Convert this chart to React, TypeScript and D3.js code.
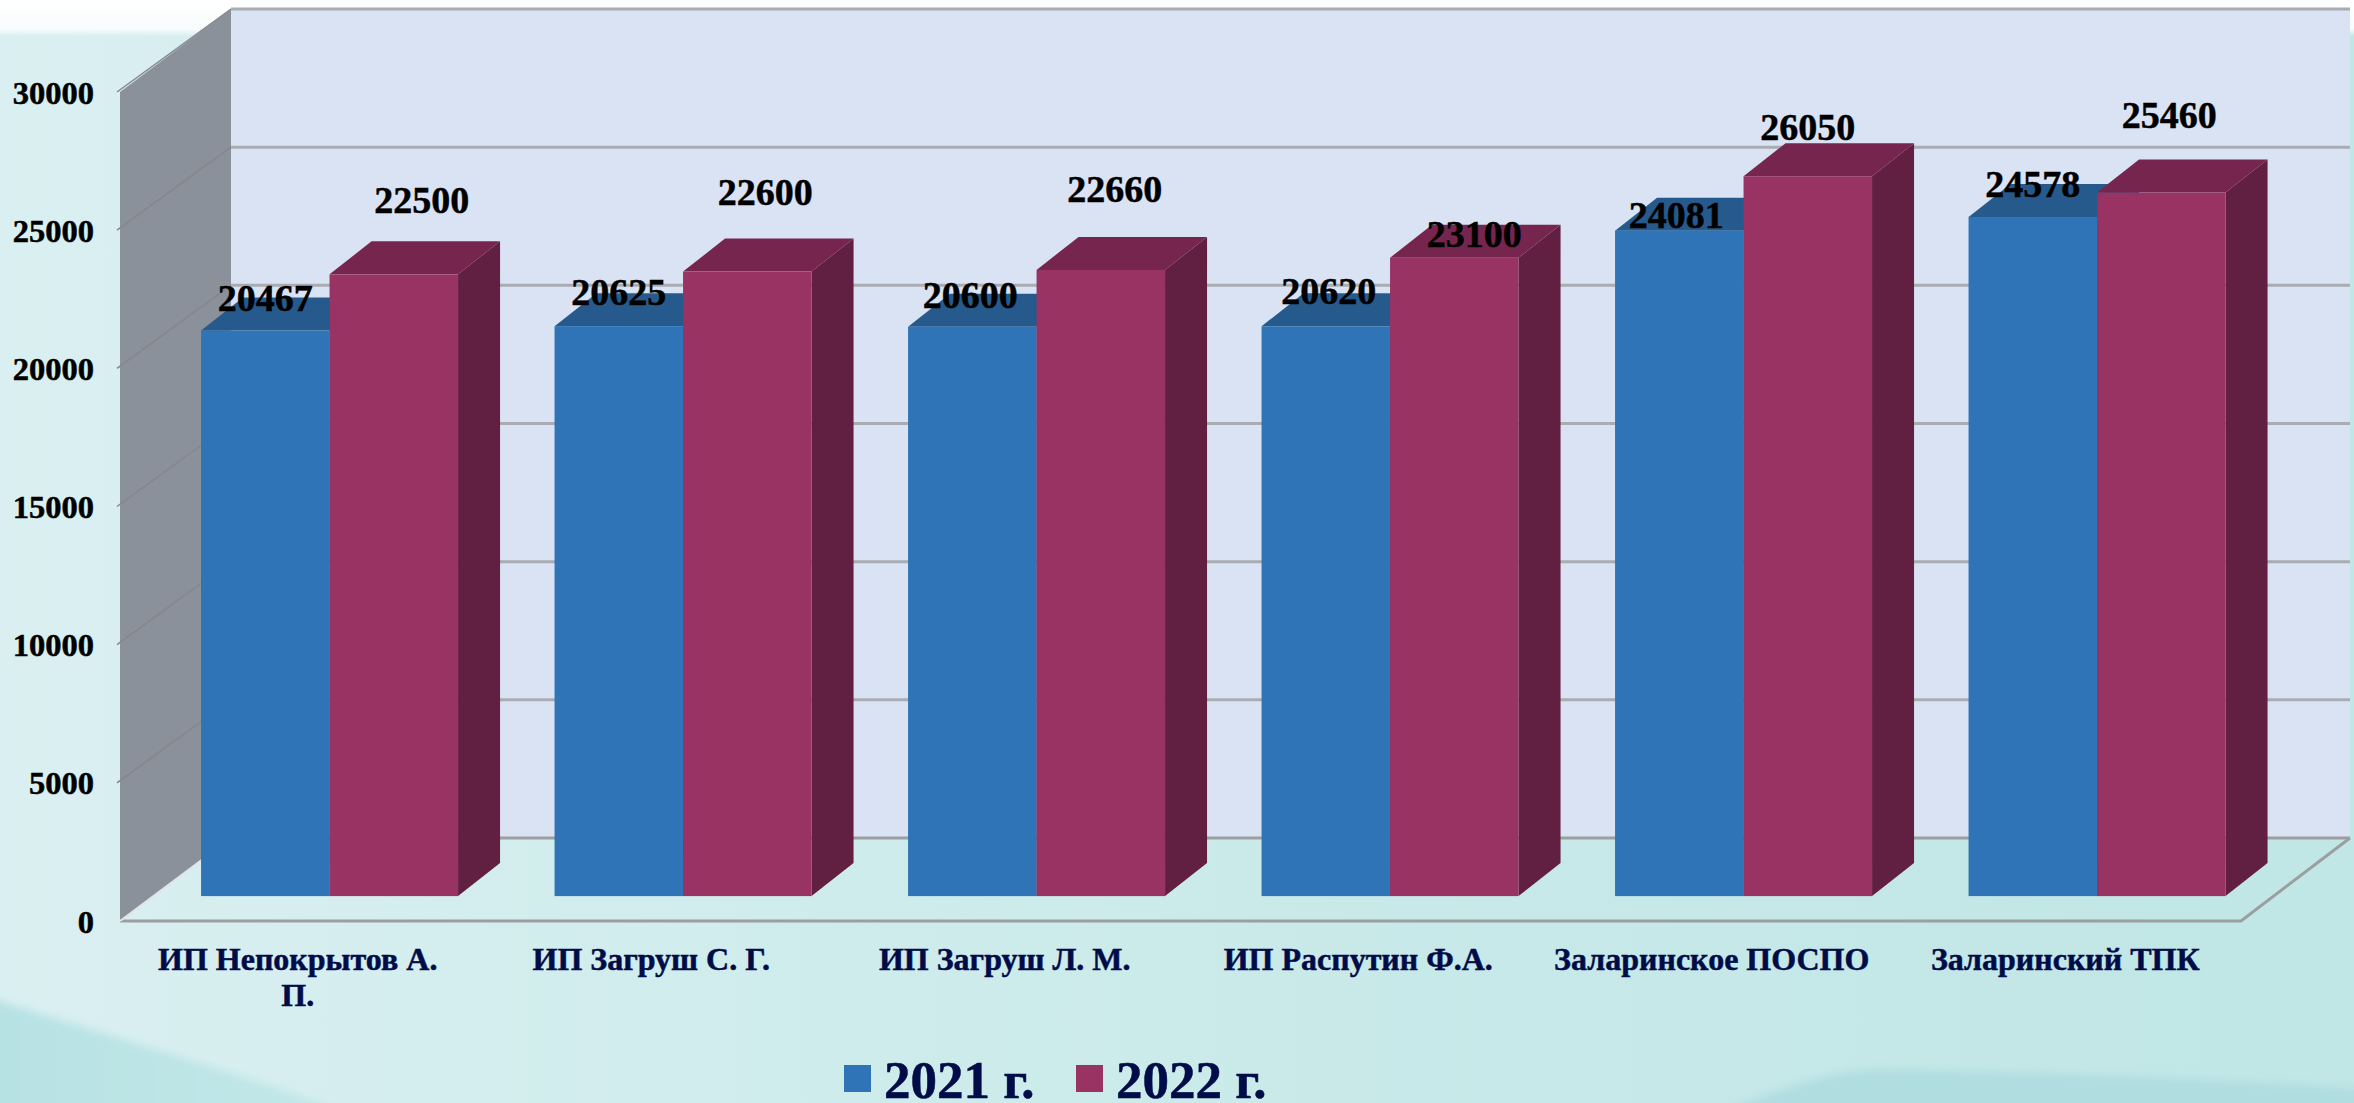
import React from "react";
import * as d3 from "d3";

const categories = [
  ["ИП Непокрытов А.", "П."],
  ["ИП Загруш С. Г."],
  ["ИП Загруш Л. М."],
  ["ИП Распутин Ф.А."],
  ["Заларинское ПОСПО"],
  ["Заларинский ТПК"],
];
const seriesNames = ["2021 г.", "2022 г."];
const values2021 = [20467, 20625, 20600, 20620, 24081, 24578];
const values2022 = [22500, 22600, 22660, 23100, 26050, 25460];
const yTicks = [0, 5000, 10000, 15000, 20000, 25000, 30000];

// hand-placed data label offsets from the top of the bar's front face
const labelOffsets2021 = [[0, -20], [0, -21], [-2, -19], [3, -22], [-3, -3], [0, -20]];
const labelOffsets2022 = [[28, -61], [18, -67], [14, -68], [20, -11], [0, -36], [8, -64.5]];

const W = 2354, H = 1103;
const FRONT = { x0: 120, x1: 2241, y0: 921, y1: 92 };
const DX = 111, DY = -83;
const WALL_RIGHT = 2350;
const BAR_PLANE = 0.3, BAR_DX = 42, BAR_DY = -33;

const xFront = d3.scaleBand<number>().domain(d3.range(categories.length)).range([FRONT.x0, FRONT.x1]);
const xBar = d3.scaleBand<number>().domain(d3.range(categories.length))
  .range([FRONT.x0 + DX * BAR_PLANE - 0.5, FRONT.x1 + DX * BAR_PLANE - 0.5]).paddingInner(0.273).paddingOuter(0.1365);
const xSeries = d3.scaleBand<number>().domain([0, 1]).range([0, xBar.bandwidth()]);
const yFront = d3.scaleLinear().domain([0, 30000]).range([FRONT.y0, FRONT.y1]);
const yBar = (v: number) => yFront(v) + DY * BAR_PLANE;

const palette = [
  { front: "#2e74b6", top: "#265a8c", side: "#204b75" },
  { front: "#983363", top: "#76264e", side: "#611f41" },
];
const navy = "#000c48";
const serif = "'Liberation Serif', serif";
const gridColor = "#a9acb2";

const pts = (p: number[][]) => p.map((q) => q.join(",")).join(" ");

function Bar({ i, s, v }: { i: number; s: number; v: number }) {
  const x0 = xBar(i)! + xSeries(s)!;
  const x1 = x0 + xSeries.bandwidth();
  const yT = yBar(v), yB = yBar(0);
  const c = palette[s];
  return (
    <g>
      <polygon points={pts([[x1, yT], [x1 + BAR_DX, yT + BAR_DY], [x1 + BAR_DX, yB + BAR_DY], [x1, yB]])} fill={c.side} />
      <polygon points={pts([[x0, yT], [x0 + BAR_DX, yT + BAR_DY], [x1 + BAR_DX, yT + BAR_DY], [x1, yT]])} fill={c.top} />
      <rect x={x0} y={yT} width={x1 - x0} height={yB - yT} fill={c.front} />
    </g>
  );
}

export default function App() {
  const series = [values2021, values2022];
  const offsets = [labelOffsets2021, labelOffsets2022];
  const boldText = { fontFamily: serif, fontWeight: "bold" as const, strokeWidth: 0.5 };
  return (
    <svg width={W} height={H} viewBox={`0 0 ${W} ${H}`} style={{ position: "absolute", left: 0, top: 0, display: "block" }}>
      <defs>
        <linearGradient id="bg" x1="0" x2="1" y1="0" y2="0">
          <stop offset="0" stopColor="#daeff1" />
          <stop offset="0.35" stopColor="#cfecec" />
          <stop offset="0.7" stopColor="#c6e8e8" />
          <stop offset="1" stopColor="#c0e6e6" />
        </linearGradient>
        <linearGradient id="topFade" x1="0" x2="0" y1="0" y2="1">
          <stop offset="0" stopColor="#ffffff" />
          <stop offset="0.8" stopColor="#f8fcfc" />
          <stop offset="1" stopColor="#ffffff" stopOpacity="0" />
        </linearGradient>
        <linearGradient id="cornerLeft" x1="0" x2="1" y1="0" y2="0">
          <stop offset="0" stopColor="#b6e1e3" />
          <stop offset="1" stopColor="#c4e8e9" />
        </linearGradient>
        <filter id="soft" x="-10%" y="-30%" width="120%" height="160%">
          <feGaussianBlur stdDeviation="4" />
        </filter>
      </defs>

      <rect width={W} height={H} fill="url(#bg)" />
      <rect width={W} height={36} fill="url(#topFade)" />
      <path d="M-20,995 C120,1040 250,1075 365,1120 L-20,1120 Z" fill="url(#cornerLeft)" filter="url(#soft)" />
      <path d="M1696,1120 C1770,1095 1820,1072 1875,1070 C2050,1072 2200,1078 2374,1090 L2374,1120 Z" fill="#b0dde0" filter="url(#soft)" />

      {/* back wall */}
      <rect x={FRONT.x0 + DX} y={FRONT.y1 + DY} width={WALL_RIGHT - FRONT.x0 - DX} height={FRONT.y0 - FRONT.y1} fill="#dae3f4" />
      {/* side wall */}
      <polygon
        points={pts([[FRONT.x0, FRONT.y1], [FRONT.x0 + DX, FRONT.y1 + DY], [FRONT.x0 + DX, FRONT.y0 + DY], [FRONT.x0, FRONT.y0]])}
        fill="#8b919b"
      />
      {/* gridlines */}
      {yTicks.map((t) => (
        <g key={t}>
          {t > 0 && (
            <line x1={FRONT.x0 - 3} x2={FRONT.x0 + DX} y1={yFront(t)} y2={yFront(t) + DY} stroke="#85868c" strokeWidth={1.5} />
          )}
          <line x1={FRONT.x0 + DX} x2={WALL_RIGHT} y1={yFront(t) + DY} y2={yFront(t) + DY} stroke={t === 0 ? "#9b9f9f" : gridColor} strokeWidth={3} />
        </g>
      ))}
      {/* floor edges */}
      <polyline
        points={pts([[FRONT.x0, FRONT.y0], [FRONT.x1, FRONT.y0], [WALL_RIGHT, FRONT.y0 + DY]])}
        fill="none"
        stroke="#9b9f9f"
        strokeWidth={3}
      />
      <line x1={FRONT.x0 + DX} x2={FRONT.x0} y1={FRONT.y0 + DY} y2={FRONT.y0} stroke="#dfe5e6" strokeWidth={2} />

      {/* bars */}
      {categories.map((_, i) => (
        <g key={i}>
          {series.map((vals, s) => (
            <Bar key={s} i={i} s={s} v={vals[i]} />
          ))}
        </g>
      ))}

      {/* axis labels */}
      {yTicks.map((t) => (
        <text key={t} x={94} y={yFront(t) + 11.5} textAnchor="end" {...boldText} stroke="#000" fontSize={32.5} fill="#000">
          {t}
        </text>
      ))}
      {categories.map((lines, i) => (
        <text key={i} textAnchor="middle" {...boldText} stroke={navy} fontSize={32} fill={navy}>
          {lines.map((l, j) => (
            <tspan key={j} x={xFront(i)! + xFront.bandwidth() / 2 + 1} y={970 + j * 36}>
              {l}
            </tspan>
          ))}
        </text>
      ))}

      {/* data labels */}
      {series.map((vals, s) =>
        vals.map((v, i) => (
          <text
            key={`${s}-${i}`}
            x={xBar(i)! + xSeries(s)! + xSeries.bandwidth() / 2 + offsets[s][i][0]}
            y={yBar(v) + offsets[s][i][1]}
            textAnchor="middle"
            {...boldText}
            stroke="#000"
            fontSize={38}
            fill="#000"
          >
            {v}
          </text>
        ))
      )}

      {/* legend */}
      {seriesNames.map((name, s) => (
        <g key={name} transform={`translate(${844 + s * 232},1065)`}>
          <rect width={27} height={27} fill={palette[s].front} />
          <text x={40} y={33} {...boldText} stroke={navy} fontSize={53} fill={navy}>
            {name}
          </text>
        </g>
      ))}
    </svg>
  );
}
